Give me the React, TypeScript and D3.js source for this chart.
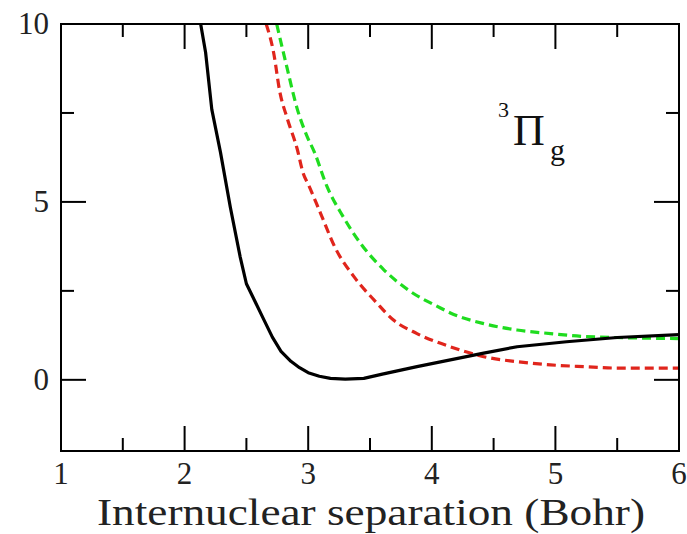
import React from "react";
import * as d3 from "d3";

const blackX = [2.13, 2.17, 2.22, 2.29, 2.37, 2.45, 2.5, 2.57, 2.64, 2.71, 2.78, 2.86, 2.93, 3.0, 3.09, 3.18, 3.3, 3.45, 3.6, 3.88, 4.15, 4.42, 4.69, 5.09, 5.5, 6.0];
const blackY = [10, 9.2, 7.6, 6.4, 4.85, 3.45, 2.7, 2.2, 1.7, 1.2, 0.8, 0.52, 0.34, 0.2, 0.1, 0.04, 0.02, 0.04, 0.16, 0.37, 0.56, 0.75, 0.93, 1.07, 1.19, 1.27];

const redX = [2.66, 2.72, 2.77, 2.83, 2.91, 2.96, 3.0, 3.1, 3.22, 3.37, 3.55, 3.69, 3.88, 4.15, 4.42, 4.69, 4.96, 5.23, 5.5, 6.0];
const redY = [10, 9.2, 8.1, 7.35, 6.5, 5.8, 5.5, 4.68, 3.7, 2.9, 2.18, 1.68, 1.3, 0.93, 0.65, 0.51, 0.42, 0.37, 0.33, 0.33];

const greenX = [2.745, 2.83, 2.91, 2.99, 3.05, 3.15, 3.28, 3.42, 3.61, 3.82, 4.07, 4.15, 4.42, 4.69, 4.96, 5.23, 6.0];
const greenY = [10, 8.75, 7.63, 6.85, 6.4, 5.45, 4.6, 3.85, 3.1, 2.5, 2.02, 1.88, 1.58, 1.4, 1.3, 1.22, 1.16];

const xMajor = [1, 2, 3, 4, 5, 6];
const xMinor = [1.5, 2.5, 3.5, 4.5, 5.5];
const yMajor = [0, 5, 10];
const yMinor = [2.5, 7.5];

const xTitle = "Internuclear separation (Bohr)";

const L = 61, R = 679, T = 24, B = 451;
const FONT = "'Liberation Serif', 'Times New Roman', serif";

export default function App() {
  const x = d3.scaleLinear().domain([1, 6]).range([L, R]);
  const y = d3.scaleLinear().domain([-2, 10]).range([B, T]);
  const mk = (xs: number[], ys: number[], c: d3.CurveFactory) =>
    d3.line<number>().x((_, i) => x(xs[i])).y((_, i) => y(ys[i])).curve(c)(xs);
  const MJ = 25, MN = 13;
  return (
    <svg width={687} height={534} style={{ position: "absolute", left: 0, top: 0, background: "#fff" }}>
      <defs>
        <clipPath id="plot">
          <rect x={L} y={T} width={R - L} height={B - T} />
        </clipPath>
      </defs>
      <g clipPath="url(#plot)" fill="none" strokeWidth={3.2}>
        <path d={mk(redX, redY, d3.curveMonotoneX) || ""} stroke="#e0251c" strokeDasharray="9 5" />
        <path d={mk(greenX, greenY, d3.curveMonotoneX) || ""} stroke="#1fdc1f" strokeDasharray="9 5" />
        <path d={mk(blackX, blackY, d3.curveLinear) || ""} stroke="#000" strokeLinejoin="round" />
      </g>
      <rect x={L} y={T} width={R - L} height={B - T} fill="none" stroke="#000" strokeWidth={2} />
      <g stroke="#000" strokeWidth={2}>
        {xMajor.map((v) => (
          <g key={"xm" + v}>
            <line x1={x(v)} x2={x(v)} y1={B} y2={B - MJ} />
            <line x1={x(v)} x2={x(v)} y1={T} y2={T + MJ} />
          </g>
        ))}
        {xMinor.map((v) => (
          <g key={"xn" + v}>
            <line x1={x(v)} x2={x(v)} y1={B} y2={B - MN} />
            <line x1={x(v)} x2={x(v)} y1={T} y2={T + MN} />
          </g>
        ))}
        {yMajor.map((v) => (
          <g key={"ym" + v}>
            <line x1={L} x2={L + MJ} y1={y(v)} y2={y(v)} />
            <line x1={R} x2={R - MJ} y1={y(v)} y2={y(v)} />
          </g>
        ))}
        {yMinor.map((v) => (
          <g key={"yn" + v}>
            <line x1={L} x2={L + MN} y1={y(v)} y2={y(v)} />
            <line x1={R} x2={R - MN} y1={y(v)} y2={y(v)} />
          </g>
        ))}
      </g>
      <g fontFamily={FONT} fontSize={31} fill="#222">
        {xMajor.map((v) => (
          <text key={"xl" + v} x={x(v)} y={484} textAnchor="middle">{v}</text>
        ))}
        {yMajor.map((v) => (
          <text key={"yl" + v} x={L - 12} y={y(v) + 10} textAnchor="end">{v}</text>
        ))}
        <text x={97} y={525} fontSize={38} textLength={548} lengthAdjust="spacingAndGlyphs">{xTitle}</text>
      </g>
      <g fontFamily={FONT} fill="#111">
        <text x={498} y={117} fontSize={22}>3</text>
        <text x={513} y={145} fontSize={44}>Π</text>
        <text x={550} y={160} fontSize={30}>g</text>
      </g>
    </svg>
  );
}
